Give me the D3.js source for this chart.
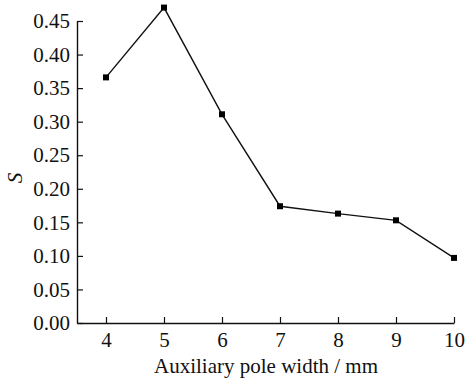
<!DOCTYPE html>
<html>
<head>
<meta charset="utf-8">
<script src="https://cdn.jsdelivr.net/npm/d3@7"></script>
<style>
  body { margin: 0; background: #fff; }
  text { font-family: 'Liberation Serif', 'Times New Roman', serif; fill: #111; }
</style>
</head>
<body>
<div id="chart"></div>
<script>
const poleWidth = [4, 5, 6, 7, 8, 9, 10];
const sValues = [0.366, 0.470, 0.311, 0.174, 0.163, 0.153, 0.097];
const yTicks = [0, 0.05, 0.1, 0.15, 0.2, 0.25, 0.3, 0.35, 0.4, 0.45];
const xTicks = [4, 5, 6, 7, 8, 9, 10];

const width = 465;
const height = 379;
const margin = { top: 21, right: 11, bottom: 56, left: 77 };

const svg = d3.select('#chart')
  .append('svg')
  .attr('width', width)
  .attr('height', height);

// x axis starts left of 4 with some padding (axis at 77, 4 at 106)
const x = d3.scaleLinear()
  .domain([3.5, 10])
  .range([margin.left, width - margin.right]);

const y = d3.scaleLinear()
  .domain([0, 0.45])
  .range([height - margin.bottom, margin.top]);

const xAxis = svg.append('g')
  .attr('transform', `translate(0,${height - margin.bottom})`)
  .call(d3.axisBottom(x).tickValues(xTicks).tickSizeInner(-6).tickSizeOuter(0).tickPadding(9).tickFormat(d3.format('d')));

const yAxis = svg.append('g')
  .attr('transform', `translate(${margin.left},0)`)
  .call(d3.axisLeft(y).tickValues(yTicks).tickSizeInner(-6).tickSizeOuter(0).tickPadding(7).tickFormat(d3.format('.2f')));

[xAxis, yAxis].forEach(g => {
  g.select('.domain').attr('stroke', '#111').attr('stroke-width', 1.4);
  g.selectAll('.tick line').attr('stroke', '#111').attr('stroke-width', 1.2);
  g.selectAll('.tick text')
    .attr('fill', '#111')
    .style('font-size', '21px')
    .style('font-family', "'Liberation Serif', serif");
});

const line = d3.line()
  .x((d, i) => x(poleWidth[i]))
  .y(d => y(d));

svg.append('path')
  .datum(sValues)
  .attr('d', line)
  .attr('fill', 'none')
  .attr('stroke', '#111')
  .attr('stroke-width', 1.4);

svg.selectAll('.pt')
  .data(sValues)
  .enter()
  .append('rect')
  .attr('class', 'pt')
  .attr('x', (d, i) => x(poleWidth[i]) - 3)
  .attr('y', d => y(d) - 3)
  .attr('width', 6)
  .attr('height', 6)
  .attr('fill', '#000');

svg.append('text')
  .attr('x', 266)
  .attr('y', 373)
  .attr('text-anchor', 'middle')
  .style('font-size', '21px')
  .text('Auxiliary pole width / mm');

svg.append('text')
  .attr('transform', `translate(22,${(margin.top + height - margin.bottom) / 2 + 6}) rotate(-90)`)
  .attr('text-anchor', 'middle')
  .style('font-size', '21px')
  .style('font-style', 'italic')
  .text('S');
</script>
</body>
</html>
